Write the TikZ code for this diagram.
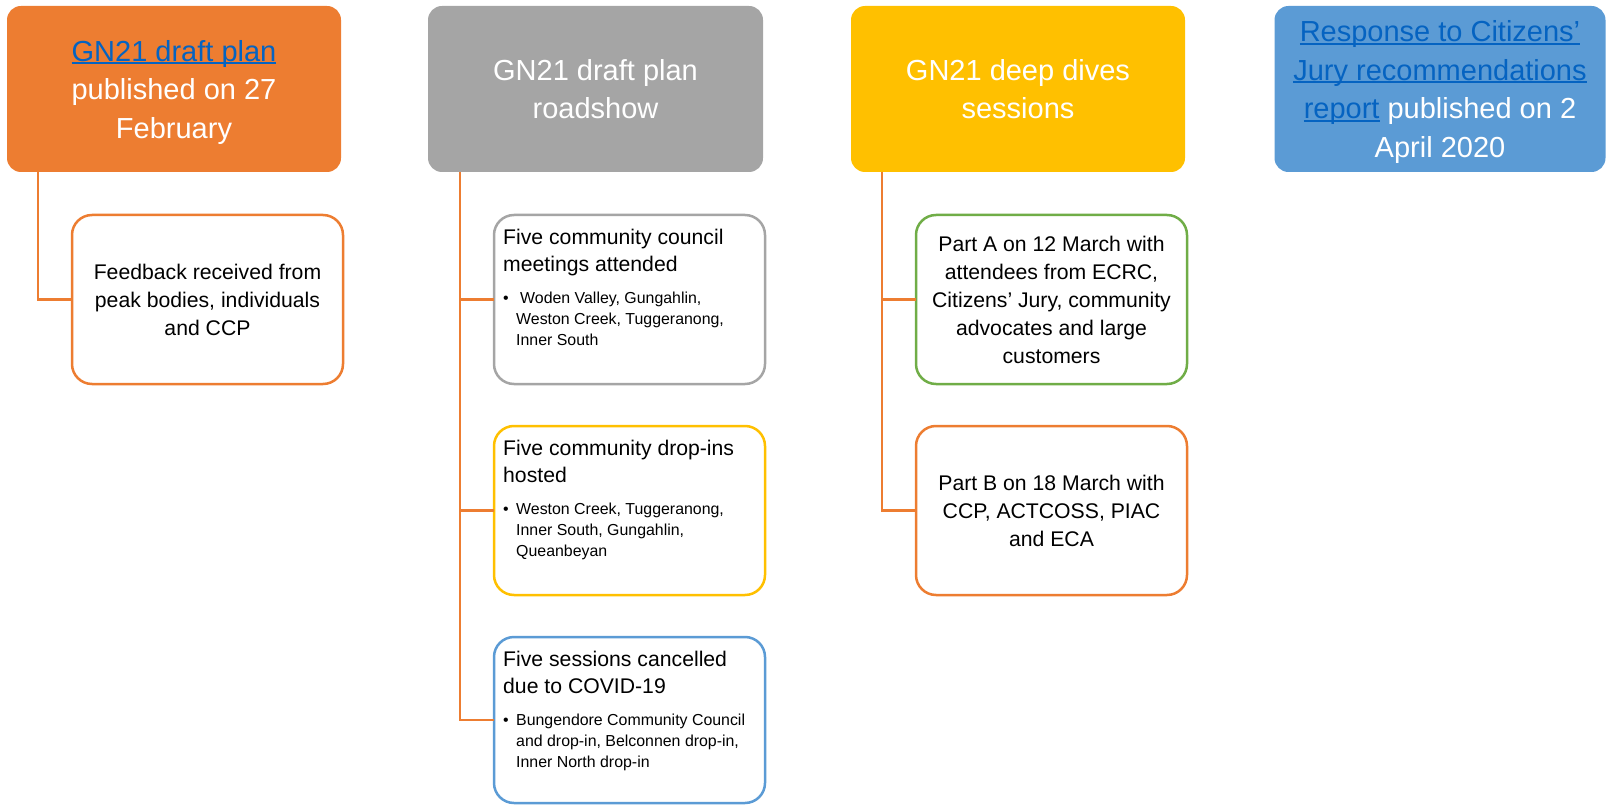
\documentclass[tikz,border=0pt]{standalone}
\usepackage{fontspec}
\setmainfont{Liberation Sans}
\definecolor{orng}{HTML}{ED7D31}
\definecolor{gry}{HTML}{A5A5A5}
\definecolor{ylw}{HTML}{FFC000}
\definecolor{blu}{HTML}{5B9BD5}
\definecolor{grn}{HTML}{70AD47}
\definecolor{lnkc}{HTML}{0563C1}
\newcommand\lnk[1]{{\color{lnkc}\setbox0=\hbox{#1}\rlap{\rule[-2.8pt]{\wd0}{2pt}}\box0}}
\newcommand\bul{\llap{•\hspace{7.5pt}}}
\begin{document}
\begin{tikzpicture}[x=1pt,y=-1pt,
  hdr/.style={rounded corners=14pt, minimum width=334pt, minimum height=166pt, inner sep=0pt, outer sep=0pt, text=white, align=center, font=\fontsize{29}{38.5}\selectfont},
  kid/.style={draw, line width=2.5pt, fill=white, rounded corners=20pt, minimum width=271pt, minimum height=169pt, inner sep=0pt, outer sep=0pt, align=center, font=\fontsize{21.2}{28}\selectfont},
  ttl/.style={anchor=north west, inner sep=0pt, align=left, font=\fontsize{21.2}{27.5}\selectfont},
  bult/.style={anchor=north west, inner sep=0pt, align=left, font=\fontsize{15.9}{21}\selectfont},
  conn/.style={draw=orng, line width=2.3pt}]
\useasboundingbox (0,0) rectangle (1606,805);

% headers
\node[hdr, fill=orng] (h1) at (174,89) {\rule{0pt}{27.5pt}\lnk{GN21 draft plan}\\published on 27\\February};
\node[hdr, fill=gry, minimum width=335pt] (h2) at (595.5,89) {GN21 draft plan\\roadshow};
\node[hdr, fill=ylw] (h3) at (1018,89) {GN21 deep dives\\sessions};
\node[hdr, fill=blu, minimum width=331pt] (h4) at (1440,89) {\rule{0pt}{27pt}\lnk{Response to Citizens’}\\\lnk{Jury recommendations}\\\lnk{report} published on 2\\April 2020};

\coordinate (v1) at ([xshift=31pt]h1.south west);
\coordinate (v2) at ([xshift=32pt]h2.south west);
\coordinate (v3) at ([xshift=31pt]h3.south west);

% children column 1
\node[kid, draw=orng] (c1) at (207.5,299.5) {Feedback received from\\peak bodies, individuals\\and CCP};

% children column 2
\node[kid, draw=gry] (c21) at (629.5,299.5) {};
\node[kid, draw=ylw] (c22) at (629.5,510.5) {};
\node[kid, draw=blu, minimum height=166pt] (c23) at (629.5,720) {};

% children column 3
\node[kid, draw=grn] (c31) at (1051.5,299.5) {Part A on 12 March with\\attendees from ECRC,\\Citizens’ Jury, community\\advocates and large\\customers};
\node[kid, draw=orng] (c32) at (1051.5,510.5) {Part B on 18 March with\\CCP, ACTCOSS, PIAC\\and ECA};

% connectors
\draw[conn] (v1) |- (c1.west);
\draw[conn] (v2) |- (c21.west);
\draw[conn] (v2) |- (c22.west);
\draw[conn] (v2) |- (c23.west);
\draw[conn] (v3) |- (c31.west);
\draw[conn] (v3) |- (c32.west);

% texts column 2
\node[ttl] (t21) at ([shift={(9,13)}]c21.north west) {\rule{0pt}{16pt}Five community council\\meetings attended};
\node[bult] (b21) at ([shift={(22,76)}]c21.north west) {\rule{0pt}{12pt}\bul\hspace{4pt}Woden Valley, Gungahlin,\\Weston Creek, Tuggeranong,\\Inner South};
\node[ttl] (t22) at ([shift={(9,13)}]c22.north west) {\rule{0pt}{16pt}Five community drop-ins\\hosted};
\node[bult] (b22) at ([shift={(22,76)}]c22.north west) {\rule{0pt}{12pt}\bul Weston Creek, Tuggeranong,\\Inner South, Gungahlin,\\Queanbeyan};
\node[ttl] (t23) at ([shift={(9,13)}]c23.north west) {\rule{0pt}{16pt}Five sessions cancelled\\due to COVID-19};
\node[bult] (b23) at ([shift={(22,76)}]c23.north west) {\rule{0pt}{12pt}\bul Bungendore Community Council\\and drop-in, Belconnen drop-in,\\Inner North drop-in};
\end{tikzpicture}
\end{document}
